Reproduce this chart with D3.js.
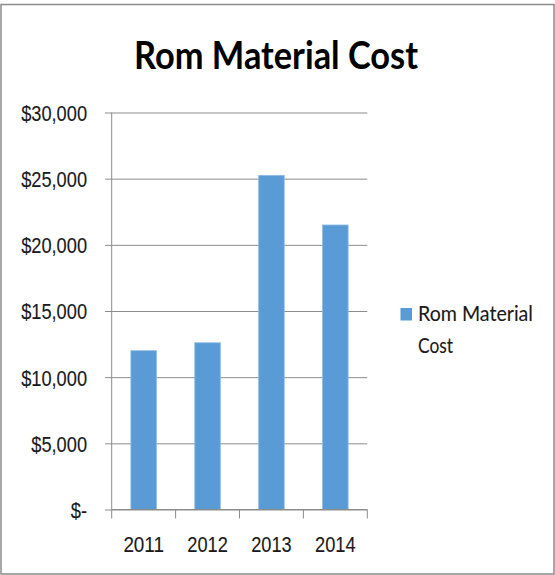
<!DOCTYPE html>
<html>
<head>
<meta charset="utf-8">
<script src="https://cdn.jsdelivr.net/npm/d3@7"></script>
<style>
  html, body { margin: 0; padding: 0; background: #fff; }
  svg { display: block; font-family: Lato, "Open Sans", sans-serif; }
</style>
</head>
<body>
<svg id="chart" width="555" height="575"></svg>
<script>
// Data
const years = ["2011", "2012", "2013", "2014"];
const costs = [12000, 12600, 25250, 21500];
const yTicks = [0, 5000, 10000, 15000, 20000, 25000, 30000];
const seriesName = "Rom Material Cost";
const legendLines = ["Rom Material", "Cost"];

const svg = d3.select("#chart");
const barColor = "#5b9bd5";
const gridColor = "#8c8c8c";
const textColor = "#1a1a1a";
const labelSize = 22;
const labelStroke = 0.12;

// Advance widths (in em) of a compact sans face, used to size the numeric labels
const charEm = { "$": 0.507, ",": 0.25, "-": 0.306 };
const emWidth = s => Array.from(s).reduce((a, c) => a + (charEm[c] ?? 0.507), 0);
function fitNumeric(sel, emSize) {
  sel.each(function () {
    d3.select(this)
      .attr("textLength", emWidth(this.textContent) * emSize)
      .attr("lengthAdjust", "spacingAndGlyphs");
  });
}

// Outer chart border
svg.append("rect")
  .attr("x", 1).attr("y", 4.5).attr("width", 553).attr("height", 569.5)
  .attr("fill", "none").attr("stroke", "#8a8a8a").attr("stroke-width", 1.5);

// Plot geometry
const plotLeft = 111.7, plotRight = 367.3, plotTop = 112.5, plotBottom = 509.5;

const x = d3.scaleBand().domain(years).range([plotLeft, plotRight])
  .paddingInner(0.6).paddingOuter(0.3);
const y = d3.scaleLinear().domain([0, 30000]).range([plotBottom, plotTop]);

// Gridlines + value labels
const gridG = svg.append("g")
  .attr("transform", `translate(105,0)`)
  .call(d3.axisLeft(y).tickValues(yTicks).tickSize(-(plotRight - 105)).tickPadding(18)
    .tickFormat(d => d === 0 ? "$-" : "$" + d3.format(",")(d)));
gridG.select(".domain").remove();
gridG.selectAll(".tick line").attr("stroke", gridColor).attr("stroke-width", 1);
gridG.selectAll(".tick text")
  .attr("fill", textColor).attr("font-size", labelSize).attr("dy", "0.36em")
  .attr("stroke", textColor).attr("stroke-width", labelStroke)
  .call(fitNumeric, 20);

// Vertical axis line
svg.append("line")
  .attr("x1", plotLeft).attr("x2", plotLeft)
  .attr("y1", plotTop).attr("y2", plotBottom)
  .attr("stroke", gridColor).attr("stroke-width", 1);

// Bars
svg.append("g").selectAll("rect")
  .data(years.map((yr, i) => ({ yr, v: costs[i] })))
  .join("rect")
  .attr("x", d => x(d.yr))
  .attr("y", d => y(d.v))
  .attr("width", x.bandwidth())
  .attr("height", d => y(0) - y(d.v))
  .attr("fill", barColor)
  .attr("stroke", "#8fbbe6").attr("stroke-width", 0.8);

// Category axis: labels and boundary tick marks
const xAxisG = svg.append("g")
  .attr("transform", `translate(0,${plotBottom})`)
  .call(d3.axisBottom(x).tickSize(0));
xAxisG.select(".domain").remove();
xAxisG.selectAll(".tick text")
  .attr("fill", textColor).attr("font-size", labelSize)
  .attr("stroke", textColor).attr("stroke-width", labelStroke)
  .attr("dy", null).attr("y", 42.5)
  .call(fitNumeric, 20);

svg.append("line")
  .attr("x1", plotLeft).attr("x2", plotRight)
  .attr("y1", plotBottom).attr("y2", plotBottom)
  .attr("stroke", gridColor);
const bounds = years.map(yr => x(yr) - (x.step() - x.bandwidth()) / 2).concat([plotRight]);
svg.append("g").selectAll("line")
  .data(bounds)
  .join("line")
  .attr("x1", d => d).attr("x2", d => d)
  .attr("y1", plotBottom).attr("y2", plotBottom + 9)
  .attr("stroke", gridColor);

// Title
svg.append("text")
  .attr("x", 276).attr("y", 68.5)
  .attr("text-anchor", "middle")
  .attr("font-size", 39).attr("font-weight", 700)
  .attr("fill", "#000")
  .attr("textLength", 284).attr("lengthAdjust", "spacingAndGlyphs")
  .text(seriesName);

// Legend
const legendWidths = [115, 35];
const legend = svg.append("g");
legend.append("rect")
  .attr("x", 400.5).attr("y", 308).attr("width", 11.5).attr("height", 12.5)
  .attr("fill", barColor);
legend.selectAll("text")
  .data(legendLines)
  .join("text")
  .attr("x", 418).attr("y", (d, i) => 320.5 + i * 32.5)
  .attr("font-size", labelSize).attr("fill", textColor)
  .attr("stroke", textColor).attr("stroke-width", labelStroke)
  .attr("textLength", (d, i) => legendWidths[i]).attr("lengthAdjust", "spacingAndGlyphs")
  .text(d => d);
</script>
</body>
</html>
